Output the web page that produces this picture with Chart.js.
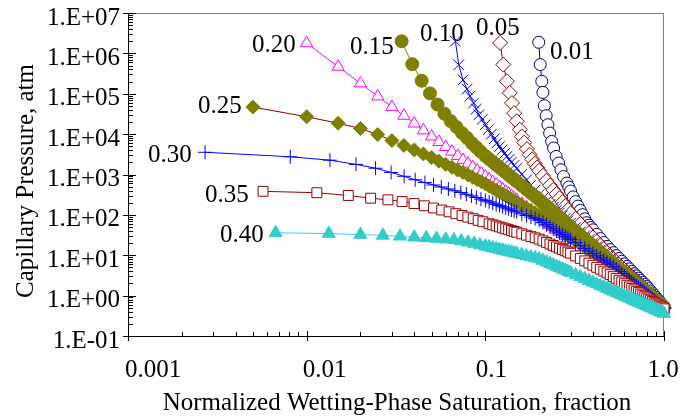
<!DOCTYPE html>
<html><head><meta charset="utf-8">
<script src="https://cdn.jsdelivr.net/npm/chart.js@4.4.1/dist/chart.umd.min.js"></script>
<style>html,body{margin:0;padding:0;background:#fff;}canvas{display:block;}</style>
</head><body>
<canvas id="c" width="698" height="418"></canvas>
<script>
// ---------------- DATA ----------------
const seriesNames = ['0.01','0.05','0.10','0.15','0.20','0.25','0.30','0.35','0.40'];
const xTickLabels = ['0.001','0.01','0.1','1.0'];
const xTickValues = [0.001,0.01,0.1,1];
const yTickLabels = ['1.E-01','1.E+00','1.E+01','1.E+02','1.E+03','1.E+04','1.E+05','1.E+06','1.E+07'];
const xTitle = 'Normalized Wetting-Phase Saturation, fraction';
const yTitle = 'Capillary Pressure, atm';

// shared saturation grid for the dense right-hand part of the curves
const satTail = [0.100,0.105,0.110,0.115,0.120,0.125,0.130,0.135,0.140,0.145,0.150,
  0.16,0.17,0.18,0.19,0.20,0.21,0.22,0.23,0.24,0.25,0.26,0.27,0.28,0.29,0.30,
  0.32,0.34,0.36,0.38,0.40,0.42,0.44,0.46,0.48,0.50,0.52,0.54,0.56,0.58,0.60,
  0.62,0.64,0.66,0.68,0.70,0.72,0.74,0.76,0.78,0.80,0.82,0.84,0.86,0.88,0.90,
  0.92,0.94,0.96,0.98,1.00];

const sat_001 = [0.199,0.203,0.207,0.210,0.214,0.219,0.224,0.229,0.235,0.241,0.249,0.257,0.265,0.274,0.286,0.293,
  0.30,0.31,0.32,0.33,0.34,0.35,0.36,0.37,0.38,0.39,
  0.40,0.42,0.44,0.46,0.48,0.50,0.52,0.54,0.56,0.58,0.60,0.62,0.64,0.66,0.68,0.70,0.72,0.74,0.76,0.78,0.80,
  0.82,0.84,0.86,0.88,0.90,0.92,0.94,0.96,0.98,1.00];
const pc_001 = [1.88e6,5.27e5,2.03e5,1.08e5,5.07e4,2.86e4,1.71e4,1.06e4,6590,4520,2800,1920,1310,891,612,490,
  389,279,213,165,129,101,80,64,55.5,48.5,
  42.6,33.0,25.9,20.6,16.6,13.8,11.6,9.8,8.3,7.1,6.1,5.3,4.6,4.0,3.5,3.08,2.71,2.40,2.13,1.90,1.69,
  1.49,1.31,1.16,1.03,0.91,0.81,0.73,0.65,0.58,0.52];

const satHead_005 = [0.121,0.126,0.132,0.137,0.141,0.145,0.150,0.156,0.160,0.165,0.171,0.177,0.183,0.189,0.195,0.20];
const pc_005 = [1.82e6,5.27e5,2.04e5,1.05e5,5.9e4,3.3e4,2.09e4,1.29e4,8710,6170,4270,3090,2370,1860,1490,1240,
  929,703,538,417,327,258,206,165,134,109,
  80.4,60.0,45.6,35.2,27.5,21.8,17.4,14.1,11.5,9.40,7.96,6.79,5.82,5.02,4.35,3.78,3.31,2.91,2.56,2.26,
  2.01,1.79,1.60,1.43,1.29,1.16,1.05,0.95,0.86,0.78,0.71,0.65,0.60,0.55,0.50];

const satHead_010 = [0.068,0.071,0.075,0.079,0.082,0.086,0.089,0.092,0.096,0.100,0.104,0.108,0.112,0.116,0.120,0.124,0.128,0.132,0.136,0.140];
const pc_010 = [2.0e6,5.2e5,2.2e5,1.3e5,8.7e4,5.9e4,4.2e4,3.0e4,2.3e4,1.72e4,1.30e4,9930,7670,6030,4900,4040,3310,2790,2370,2020,1680,1410,
  1010,738,547,413,317,261,216,181,153,130,111,95.3,82.4,71.6,62.6,
  48.4,37.9,30.2,24.3,19.8,16.3,13.5,11.3,9.55,8.11,6.93,5.96,5.15,4.48,3.91,3.43,3.02,2.67,2.37,2.11,
  1.89,1.69,1.52,1.37,1.24,1.12,1.02,0.93,0.85,0.77,0.71,0.65,0.60,0.55,0.51];

const satHead_015 = [0.034,0.039,0.044,0.049,0.054,0.059,0.064,0.069,0.074,0.079,0.084,0.089,0.094];
const pc_015 = [2.0e6,5.4e5,2.1e5,1.02e5,5.4e4,3.2e4,2.1e4,1.5e4,1.07e4,8100,6000,4700,3700,
  2880,2420,2050,1740,1500,1290,1120,979,859,757,670,
  531,428,347,286,238,197,166,140,119,102,87.7,75.9,66.1,57.9,50.9,
  39.8,31.6,25.5,20.7,17.1,14.2,11.9,10.0,8.53,7.31,6.30,5.46,4.75,4.16,3.66,3.23,2.86,2.55,2.27,2.03,
  1.83,1.65,1.49,1.35,1.22,1.11,1.02,0.93,0.85,0.78,0.72,0.66,0.61,0.57,0.52];

const satHead_020 = [0.010,0.015,0.020,0.025,0.030,0.035,0.040,0.045,0.050,0.055,0.060,0.065,0.070,0.075,0.080,0.085,0.090,0.095];
const pc_020 = [1.78e6,4.67e5,1.81e5,8.6e4,4.74e4,2.85e4,1.83e4,1.24e4,8770,6410,4810,3690,2890,2300,1860,1520,1260,1060,
  891,759,651,562,489,427,375,331,294,261,234,
  189,155,128,107,90.5,77.1,66.1,57.0,49.6,43.4,38.1,33.6,29.8,26.5,23.8,
  19.2,15.7,13.0,10.9,9.18,7.82,6.70,5.79,5.03,4.40,3.86,3.41,3.03,2.70,2.41,2.16,1.95,1.76,1.59,1.45,
  1.32,1.21,1.10,1.01,0.93,0.86,0.79,0.73,0.68,0.63,0.59,0.55,0.51,0.48,0.45];

const satHead_025 = [0.005,0.010,0.015,0.020,0.025,0.030,0.035,0.040,0.045,0.050,0.055,0.060,0.065,0.070,0.075,0.080,0.085,0.090,0.095];
const pc_025 = [4.68e4,2.69e4,1.86e4,1.38e4,9770,6920,5250,4070,3240,2630,2140,1780,1510,1290,1120,977,851,750,661,
  589,519,459,409,366,330,298,270,245,224,205,
  173,148,128,111,97.1,83.4,72.2,63.0,55.1,48.6,43.0,38.3,34.2,30.7,27.6,
  22.6,18.7,15.7,13.3,11.3,9.73,8.41,7.33,6.43,5.66,4.94,4.32,3.81,3.37,2.99,2.67,2.39,2.14,1.93,1.75,
  1.58,1.44,1.31,1.19,1.09,1.00,0.92,0.85,0.78,0.72,0.67,0.62,0.58,0.54,0.50];

const satHead_030 = [0.0027,0.0081,0.0135,0.0189,0.0243,0.0297,0.0351,0.0405,0.0459,0.0513,0.0567,0.0621,0.0675,0.0729,0.0783,0.0837,0.0891,0.0945];
const pc_030 = [3550,2750,2260,1780,1430,1120,902,741,631,550,490,437,394,359,324,295,269,245,
  229,211,196,182,170,159,149,141,132,125,118,
  106,96.4,87.9,80.5,74.1,64.9,57.1,50.6,45.0,40.2,36.1,32.6,29.5,26.8,24.4,
  20.5,17.3,14.8,12.8,11.1,9.70,8.55,7.57,6.73,6.03,5.22,4.55,3.98,3.51,3.10,2.75,2.45,2.19,1.96,1.77,
  1.59,1.44,1.31,1.19,1.08,0.99,0.91,0.83,0.77,0.71,0.65,0.60,0.56,0.52,0.48];

const satHead_035 = [0.0057,0.0114,0.0171,0.0228,0.0285,0.0342,0.0399,0.0456,0.0513,0.0570,0.0627,0.0684,0.0741,0.0798,0.0855,0.0912,0.0969];
const pc_035 = [383,354,302,259,236,214,191,168,148,132,119,107,96.6,88.1,80.4,73.3,67.6,
  60.4,56.8,53.4,50.4,47.6,45.2,43.0,40.8,38.9,37.2,
  34.0,31.4,29.0,27.0,25.1,22.8,20.8,19.0,17.5,16.1,14.9,13.8,12.9,12.0,11.2,
  9.62,8.32,7.26,6.38,5.64,5.02,4.49,4.04,3.65,3.31,2.96,2.67,2.40,2.18,1.98,1.81,1.65,1.51,1.39,1.28,
  1.19,1.10,1.02,0.94,0.88,0.82,0.77,0.72,0.67,0.63,0.59,0.56,0.53,0.50,0.47];

const satHead_040 = [0.0067,0.0133,0.0200,0.0267,0.0333,0.0400,0.0467,0.0533,0.0600,0.0667,0.0733,0.0800,0.0867,0.0933];
const pc_040 = [36,34.5,32.5,31,29.5,28,27,26,25,24,22.5,21,19.5,18,
  16.8,16.0,15.2,14.5,13.9,13.3,12.7,12.2,11.8,11.4,11.0,
  10.3,9.62,9.06,8.55,8.11,7.38,6.75,6.19,5.70,5.27,4.89,4.54,4.24,3.96,3.71,
  3.27,2.91,2.61,2.35,2.13,1.94,1.77,1.63,1.50,1.38,1.28,1.19,1.11,1.04,0.97,0.91,0.86,0.81,0.76,0.72,
  0.68,0.65,0.62,0.59,0.56,0.53,0.51,0.49,0.46,0.44,0.43,0.41,0.39,0.38,0.36];

// ---------------- BUILD ----------------
const satSets = [
  sat_001,
  satHead_005.concat(satTail.slice(16)),
  satHead_010.concat(satTail.slice(9)),
  satHead_015.concat(satTail),
  satHead_020.concat(satTail),
  satHead_025.concat(satTail),
  satHead_030.concat(satTail),
  satHead_035.concat(satTail.slice(1)),
  satHead_040.concat(satTail)
];
const pcSets = [pc_001,pc_005,pc_010,pc_015,pc_020,pc_025,pc_030,pc_035,pc_040];

// styles (kept apart from the data)
const styles = [
  {ps:'circle',   r:6,   stroke:'#000080', fill:'#ffffff', line:'#000080'},
  {ps:'rectRot',  r:7.5, stroke:'#990000', fill:'#ffffff', line:'#990000'},
  {ps:'crossRot', r:7.5, stroke:'#0000ff', fill:'#0000ff', line:'#0000ff'},
  {ps:'circle',   r:6.5, stroke:'#808000', fill:'#808000', line:'#808000'},
  {ps:'triangle', r:7,   stroke:'#ff00ff', fill:'#ffffff', line:'#ff00ff'},
  {ps:'rectRot',  r:7,   stroke:'#808000', fill:'#808000', line:'#800000'},
  {ps:'cross',    r:7,   stroke:'#0000ff', fill:'#0000ff', line:'#0000ff'},
  {ps:'rect',     r:7,   stroke:'#990000', fill:'#ffffff', line:'#990000'},
  {ps:'triangle', r:7.5, stroke:'#33cccc', fill:'#33cccc', line:'#33ccff'}
];
// label anchor positions (left, baseline) in px
const labelPos = [[550,59],[476,35],[420,41],[350,54],[252,52],[198,113],[148,162],[205,202],[220,242]];
const xLabelShift = [25,18,6,-1];

const datasets = seriesNames.map((n,i) => {
  const s = satSets[i], p = pcSets[i], st = styles[i];
  const len = Math.min(s.length, p.length);
  const data = [];
  for (let j = 0; j < len; j++) data.push({x: s[j], y: p[j]});
  return {
    label: n, data, showLine: true, tension: 0,
    borderColor: st.line, borderWidth: 1,
    pointStyle: st.ps, pointRadius: st.r, pointHoverRadius: st.r,
    pointBorderColor: st.stroke, pointBackgroundColor: st.fill, pointBorderWidth: 1,
    clip: false, order: 8 - i
  };
});

function logTicks(minExp, maxExp) {
  const t = [];
  for (let e = minExp; e < maxExp; e++) for (let m = 1; m <= 9; m++) t.push(+(m * Math.pow(10, e)).toPrecision(6));
  t.push(Math.pow(10, maxExp));
  return t;
}
const xTicksAll = logTicks(-3, 0);
const yTicksAll = logTicks(-1, 7);
const isPow10 = v => Math.abs(Math.log10(v) - Math.round(Math.log10(v))) < 1e-6;

const FONT = '"Liberation Serif","Times New Roman",serif';
Chart.defaults.font.family = FONT;
Chart.defaults.font.size = 25;
Chart.defaults.color = '#000';

const decor = {
  id: 'decor',
  beforeDatasetsDraw(chart) {
    const {ctx, chartArea: a, scales: {x, y}} = chart;
    ctx.save();
    ctx.lineWidth = 1;
    ctx.strokeStyle = '#808080';
    ctx.beginPath();
    ctx.moveTo(a.left, a.top + 0.5); ctx.lineTo(a.right, a.top + 0.5);
    ctx.moveTo(a.right - 0.5, a.top); ctx.lineTo(a.right - 0.5, a.bottom);
    ctx.stroke();
    ctx.strokeStyle = '#000';
    ctx.beginPath();
    xTicksAll.forEach(v => {
      const px = Math.round(x.getPixelForValue(v)) + 0.5;
      const maj = isPow10(v);
      ctx.moveTo(px, a.bottom + (maj ? 5 : 0)); ctx.lineTo(px, a.bottom - (maj ? 5 : 4));
    });
    yTicksAll.forEach(v => {
      const py = Math.round(y.getPixelForValue(v)) + 0.5;
      const maj = isPow10(v);
      ctx.moveTo(a.left - (maj ? 5 : 0), py); ctx.lineTo(a.left + (maj ? 8 : 5), py);
    });
    ctx.stroke();
    ctx.restore();
  },
  afterDraw(chart) {
    const {ctx, scales: {x}} = chart;
    ctx.save();
    ctx.fillStyle = '#000';
    ctx.font = '25px ' + FONT;
    ctx.textBaseline = 'alphabetic';
    ctx.textAlign = 'center';
    xTickValues.forEach((v, i) => ctx.fillText(xTickLabels[i], x.getPixelForValue(v) + xLabelShift[i], 377));
    ctx.fillText(xTitle, 397, 410);
    ctx.textAlign = 'left';
    seriesNames.forEach((n, i) => ctx.fillText(n, labelPos[i][0], labelPos[i][1]));
    ctx.translate(33, 181);
    ctx.rotate(-Math.PI / 2);
    ctx.textAlign = 'center';
    ctx.fillText(yTitle, 0, 0);
    ctx.restore();
  }
};

new Chart(document.getElementById('c'), {
  type: 'scatter',
  data: {datasets},
  plugins: [decor],
  options: {
    responsive: false, animation: false, devicePixelRatio: 1,
    layout: {padding: {left: 0, right: 34, top: 13, bottom: 0}},
    plugins: {legend: {display: false}, tooltip: {enabled: false}},
    scales: {
      x: {
        type: 'logarithmic', min: 0.001, max: 1,
        afterBuildTicks: s => { s.ticks = xTicksAll.map(v => ({value: v})); },
        ticks: {display: false},
        grid: {display: false},
        border: {display: true, color: '#000', width: 1},
        afterFit: s => { s.height = 82; s.paddingLeft = 0; s.paddingRight = 0; }
      },
      y: {
        type: 'logarithmic', min: 0.1, max: 1e7,
        afterBuildTicks: s => { s.ticks = yTicksAll.map(v => ({value: v})); },
        ticks: {
          autoSkip: false, padding: 8, labelOffset: 5, color: '#000',
          font: {size: 25, family: FONT},
          callback: v => isPow10(v) ? yTickLabels[Math.round(Math.log10(v)) + 1] : ''
        },
        grid: {display: false, drawTicks: false},
        border: {display: true, color: '#000', width: 1},
        afterFit: s => { s.width = 128; s.paddingTop = 0; s.paddingBottom = 0; }
      }
    }
  }
});
</script>
</body></html>
